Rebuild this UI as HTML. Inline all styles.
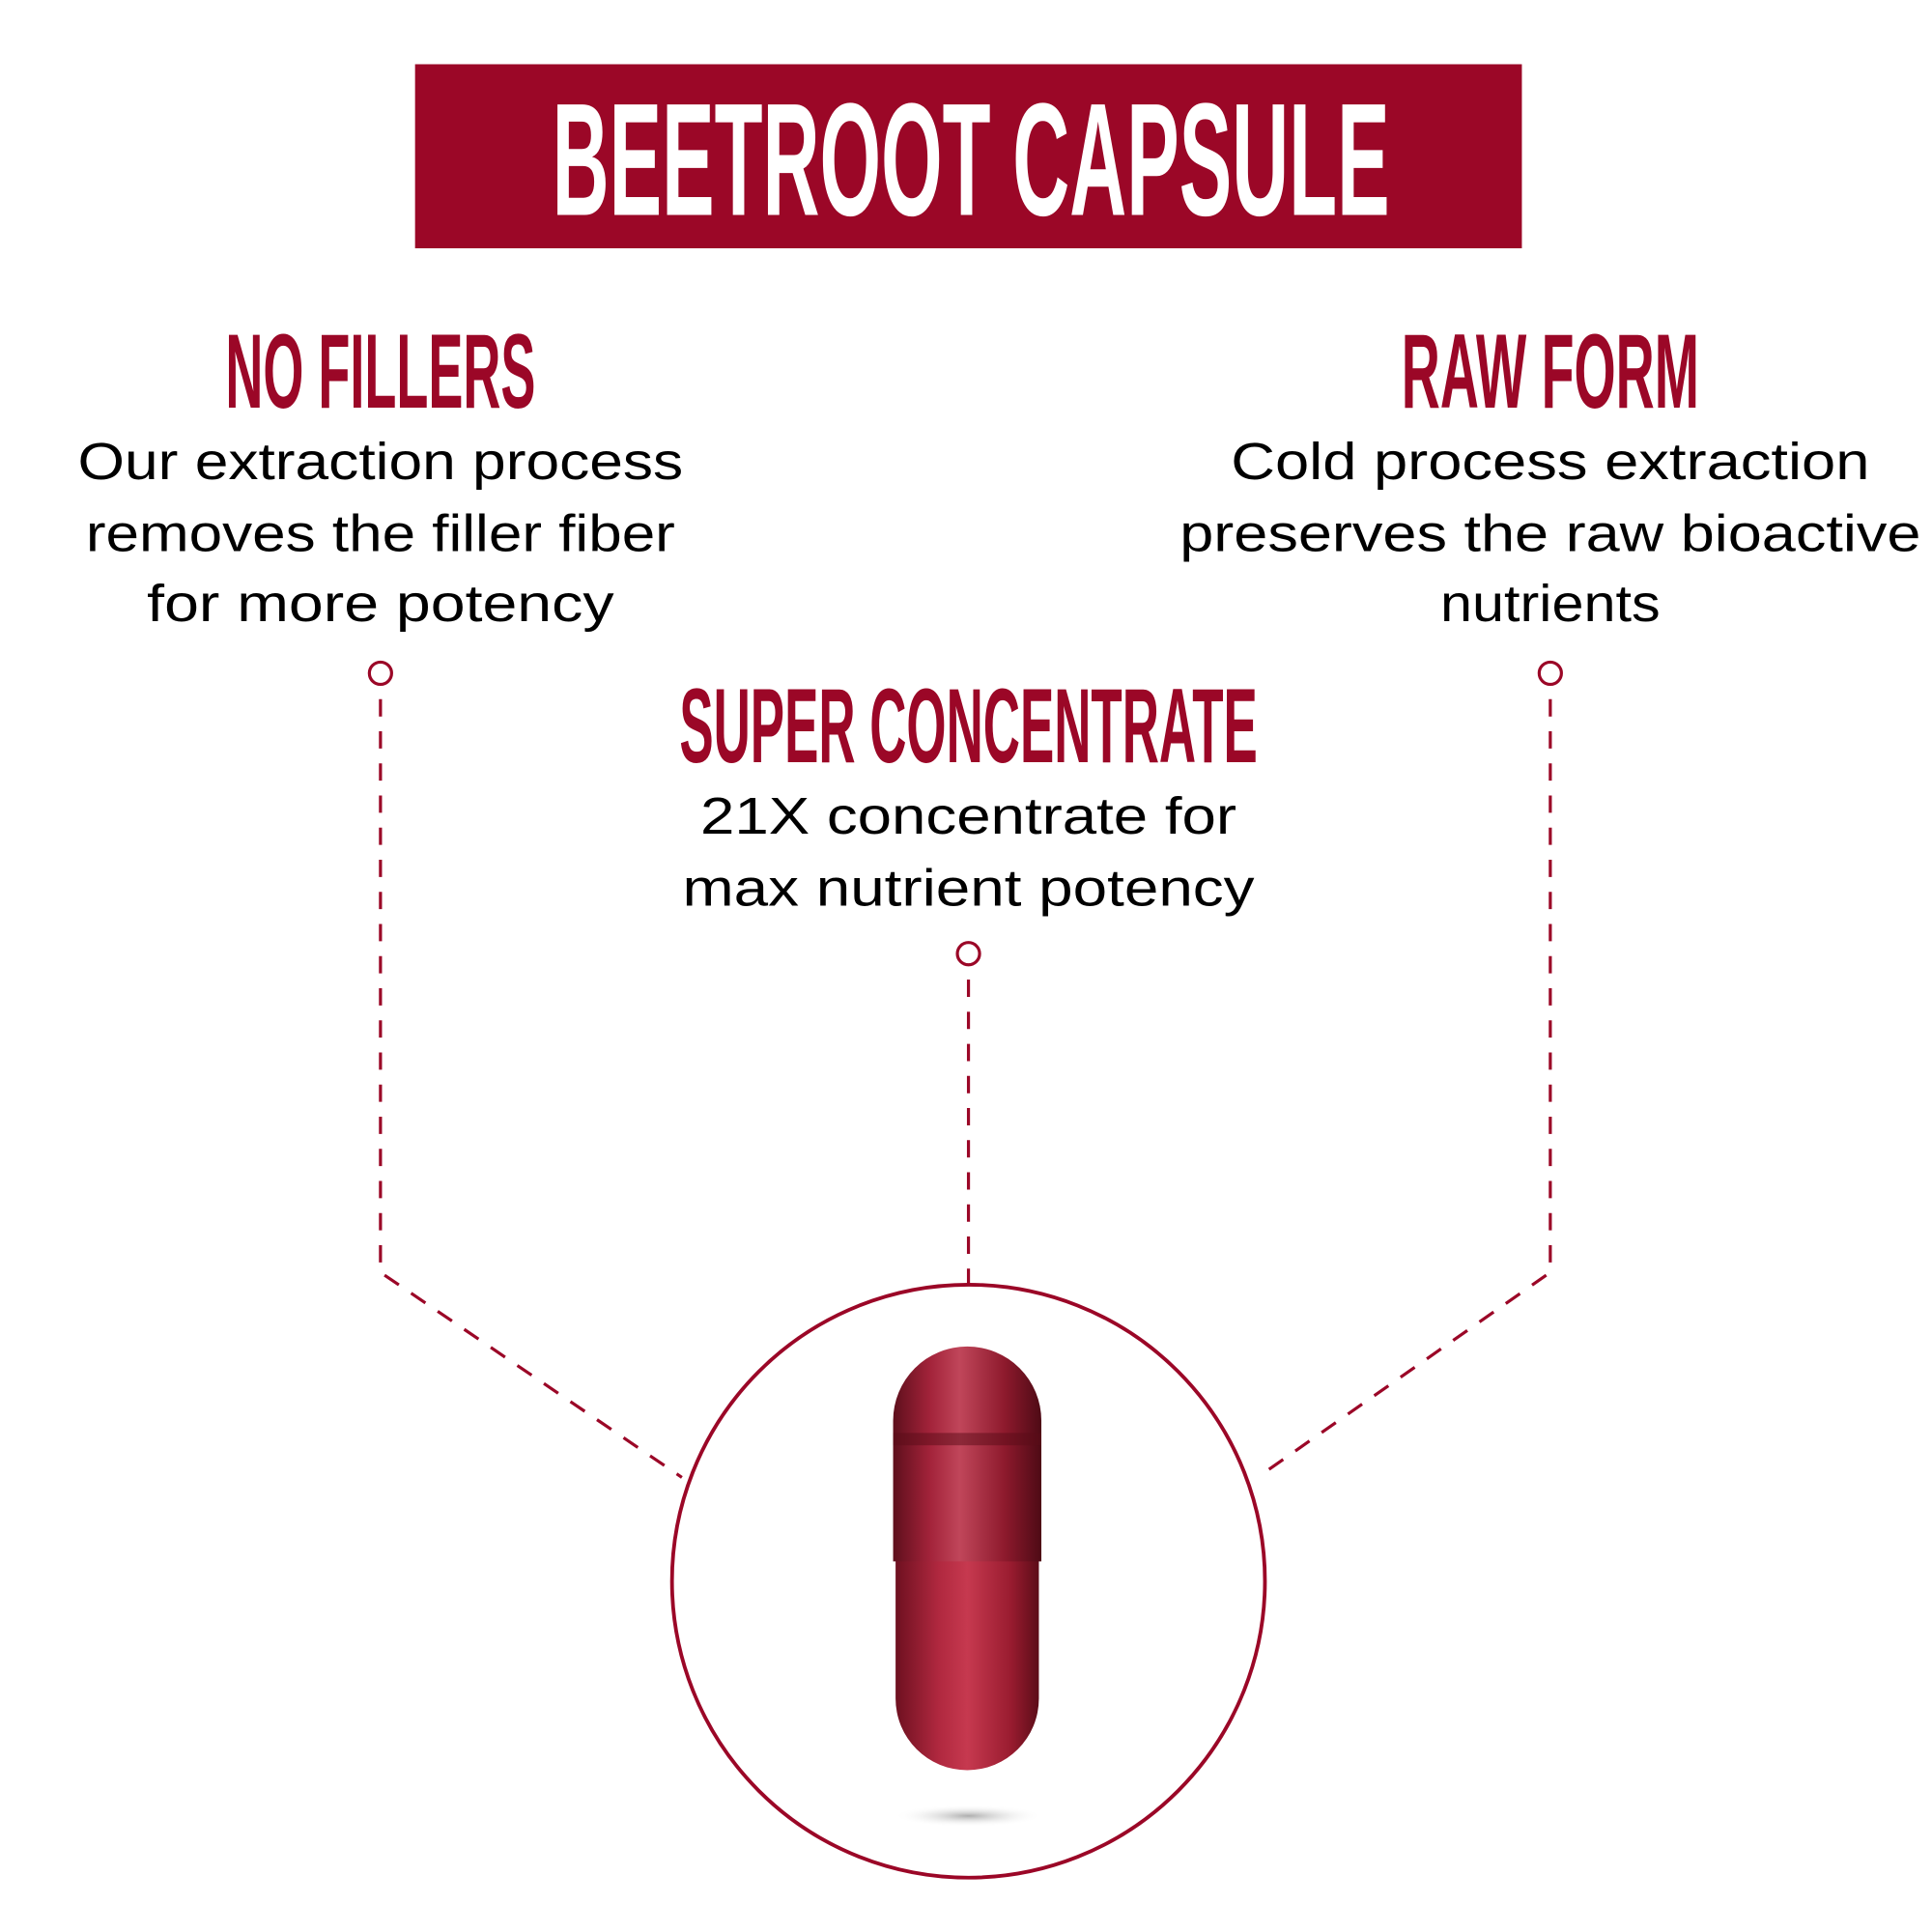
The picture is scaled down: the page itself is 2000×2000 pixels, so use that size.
<!DOCTYPE html>
<html><head><meta charset="utf-8"><style>html,body{margin:0;padding:0;background:#fff}svg{display:block}</style></head>
<body>
<svg width="2000" height="2000" viewBox="0 0 1564 1564" xmlns="http://www.w3.org/2000/svg">
<defs>
<linearGradient id="cg" x1="0" x2="1" y1="0" y2="0">
<stop offset="0" stop-color="#5e0f1c"/><stop offset="0.25" stop-color="#a3233a"/><stop offset="0.45" stop-color="#c0465a"/><stop offset="0.75" stop-color="#8e1a2d"/><stop offset="1" stop-color="#4e0a15"/>
</linearGradient>
<linearGradient id="cg2" x1="0" x2="1" y1="0" y2="0">
<stop offset="0" stop-color="#6e1020"/><stop offset="0.3" stop-color="#b0283f"/><stop offset="0.5" stop-color="#c6394f"/><stop offset="0.8" stop-color="#9a1c30"/><stop offset="1" stop-color="#5c0c18"/>
</linearGradient>
<radialGradient id="sh"><stop offset="0" stop-color="#999" stop-opacity="0.8"/><stop offset="1" stop-color="#fff" stop-opacity="0"/></radialGradient>
</defs>
<rect x="336" y="52" width="896" height="149" fill="#9b0727"/>
<text x="786" y="174" font-family="Liberation Sans Narrow, Liberation Sans, sans-serif" font-weight="bold" font-size="130" fill="#fff" text-anchor="middle" textLength="678" lengthAdjust="spacingAndGlyphs">BEETROOT CAPSULE</text>
<g font-family="Liberation Sans Narrow, Liberation Sans, sans-serif" font-weight="bold" font-size="86" fill="#9b0727" text-anchor="middle">
<text x="308" y="330" textLength="251" lengthAdjust="spacingAndGlyphs">NO FILLERS</text>
<text x="1255" y="330" textLength="241" lengthAdjust="spacingAndGlyphs">RAW FORM</text>
<text x="784" y="617" textLength="468" lengthAdjust="spacingAndGlyphs">SUPER CONCENTRATE</text>
</g>
<g font-family="Liberation Sans, sans-serif" font-size="42" fill="#000" text-anchor="middle">
<text x="308" y="388" textLength="490" lengthAdjust="spacingAndGlyphs">Our extraction process</text>
<text x="308" y="446" textLength="477" lengthAdjust="spacingAndGlyphs">removes the filler fiber</text>
<text x="308" y="503" textLength="378" lengthAdjust="spacingAndGlyphs">for more potency</text>
<text x="1255" y="388" textLength="517" lengthAdjust="spacingAndGlyphs">Cold process extraction</text>
<text x="1255" y="446" textLength="600" lengthAdjust="spacingAndGlyphs">preserves the raw bioactive</text>
<text x="1255" y="503" textLength="178" lengthAdjust="spacingAndGlyphs">nutrients</text>
<text x="784" y="675" textLength="434" lengthAdjust="spacingAndGlyphs">21X concentrate for</text>
<text x="784" y="733" textLength="463" lengthAdjust="spacingAndGlyphs">max nutrient potency</text>
</g>
<g fill="none" stroke="#9b0727" stroke-width="2.5">
<circle cx="308" cy="545" r="9"/><circle cx="1255" cy="545" r="9"/><circle cx="784" cy="772" r="9"/>
<g stroke-dasharray="14 12">
<polyline points="308,566 308,1030 552,1196"/>
<polyline points="1255,566 1255,1030 1018,1196"/>
<line x1="784" y1="793" x2="784" y2="1040"/>
</g>
<circle cx="784" cy="1280" r="240" stroke-width="3"/>
</g>
<ellipse cx="784" cy="1470" rx="60" ry="9" fill="url(#sh)"/>
<path d="M725,1262 L841,1262 L841,1375 A58,58 0 0 1 725,1375 Z" fill="url(#cg2)"/>
<path d="M723,1150 A60,60 0 0 1 843,1150 L843,1264 L723,1264 Z" fill="url(#cg)"/>
<rect x="723" y="1160" width="120" height="10" fill="#5a0c18" opacity="0.5"/>
</svg>
</body></html>
